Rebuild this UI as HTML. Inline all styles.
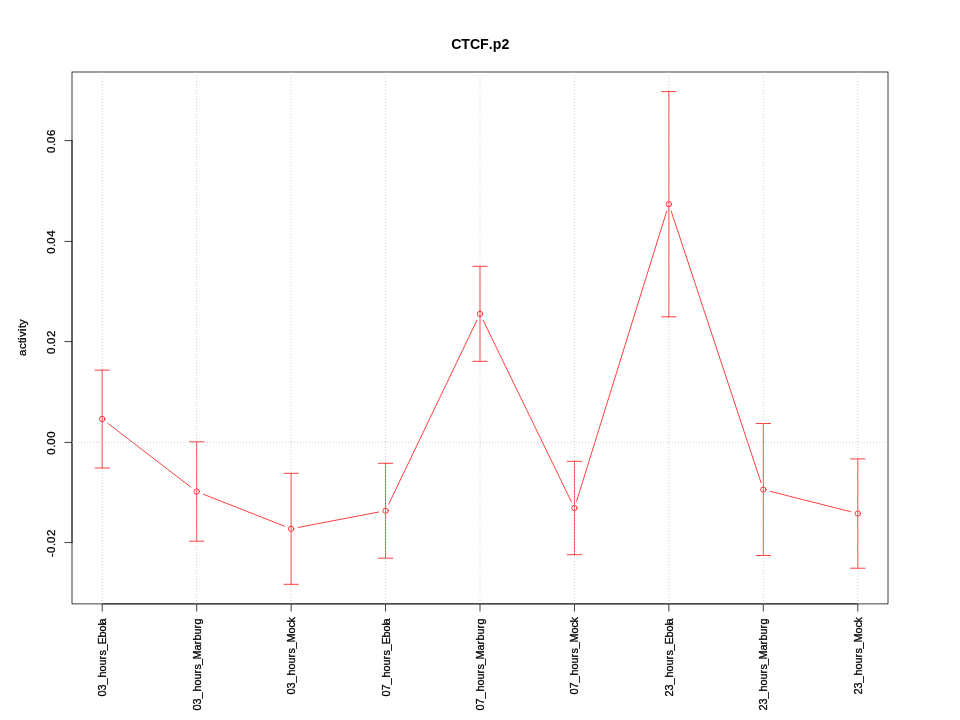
<!DOCTYPE html>
<html><head><meta charset="utf-8"><title>CTCF.p2</title>
<style>
html,body{margin:0;padding:0;background:#fff;}
svg{display:block;}
text{font-family:"Liberation Sans",Arial,Helvetica,sans-serif;fill:#000;}
.k{stroke:#000;stroke-width:.75;fill:none;stroke-linecap:round;stroke-linejoin:round}
.r{stroke:#f00;stroke-width:.75;fill:none;stroke-linecap:round}
.g{stroke:#bebebe;stroke-width:.75;fill:none;stroke-linecap:butt;stroke-dasharray:1 2}
</style></head><body>
<svg width="960" height="720" viewBox="0 0 960 720">
<rect width="960" height="720" fill="#fff"/>
<g class="r">
<line x1="107.93" y1="423.39" x2="190.96" y2="487.21"/>
<line x1="203.37" y1="494.24" x2="284.41" y2="526.16"/>
<line x1="298.18" y1="527.44" x2="378.48" y2="512.06"/>
<line x1="388.67" y1="504.21" x2="476.88" y2="320.39"/>
<line x1="483.15" y1="320.37" x2="571.3" y2="501.63"/>
<line x1="576.58" y1="501.22" x2="666.75" y2="211.08"/>
<line x1="671.15" y1="211.04" x2="761.07" y2="482.76"/>
<line x1="770.31" y1="491.37" x2="850.8" y2="511.73"/>
<circle cx="102.22" cy="419" r="2.7"/>
<circle cx="196.67" cy="491.6" r="2.7"/>
<circle cx="291.11" cy="528.8" r="2.7"/>
<circle cx="385.56" cy="510.7" r="2.7"/>
<circle cx="480" cy="313.9" r="2.7"/>
<circle cx="574.44" cy="508.1" r="2.7"/>
<circle cx="668.89" cy="204.2" r="2.7"/>
<circle cx="763.33" cy="489.6" r="2.7"/>
<circle cx="857.78" cy="513.5" r="2.7"/>
</g>
<g class="k">
<rect x="72" y="72" width="816" height="531.9" style="stroke-linejoin:miter"/>
<line x1="102.22" y1="603.9" x2="857.78" y2="603.9"/>
<line x1="102.22" y1="603.9" x2="102.22" y2="611.1"/>
<line x1="196.67" y1="603.9" x2="196.67" y2="611.1"/>
<line x1="291.11" y1="603.9" x2="291.11" y2="611.1"/>
<line x1="385.56" y1="603.9" x2="385.56" y2="611.1"/>
<line x1="480" y1="603.9" x2="480" y2="611.1"/>
<line x1="574.44" y1="603.9" x2="574.44" y2="611.1"/>
<line x1="668.89" y1="603.9" x2="668.89" y2="611.1"/>
<line x1="763.33" y1="603.9" x2="763.33" y2="611.1"/>
<line x1="857.78" y1="603.9" x2="857.78" y2="611.1"/>
<line x1="72" y1="542.58" x2="72" y2="140.58"/>
<line x1="72" y1="542.58" x2="64.8" y2="542.58"/>
<line x1="72" y1="442.42" x2="64.8" y2="442.42"/>
<line x1="72" y1="341.58" x2="64.8" y2="341.58"/>
<line x1="72" y1="241.42" x2="64.8" y2="241.42"/>
<line x1="72" y1="140.58" x2="64.8" y2="140.58"/>
</g>
<g class="r">
<path d="M95.02 370.1H109.42M102.22 370.1V468M95.02 468H109.42"/>
<path d="M189.47 441.8H203.87M196.67 441.8V541.2M189.47 541.2H203.87"/>
<path d="M283.91 473.3H298.31M291.11 473.3V584.3M283.91 584.3H298.31"/>
<path d="M378.36 463.3H392.76M385.56 463.3V558.2M378.36 558.2H392.76"/>
<path d="M472.8 266.3H487.2M480 266.3V361.3M472.8 361.3H487.2"/>
<path d="M567.24 461.3H581.64M574.44 461.3V554.7M567.24 554.7H581.64"/>
<path d="M661.69 91.6H676.09M668.89 91.6V316.8M661.69 316.8H676.09"/>
<path d="M756.13 423.5H770.53M763.33 423.5V555.5M756.13 555.5H770.53"/>
<path d="M850.58 458.9H864.98M857.78 458.9V568.2M850.58 568.2H864.98"/>
</g>
<g class="g">
<line x1="102.22" y1="604" x2="102.22" y2="72"/>
<line x1="196.67" y1="604" x2="196.67" y2="72"/>
<line x1="291.11" y1="604" x2="291.11" y2="72"/>
<line x1="385.56" y1="604" x2="385.56" y2="72"/>
<line x1="480" y1="604" x2="480" y2="72"/>
<line x1="574.44" y1="604" x2="574.44" y2="72"/>
<line x1="668.89" y1="604" x2="668.89" y2="72"/>
<line x1="763.33" y1="604" x2="763.33" y2="72"/>
<line x1="857.78" y1="604" x2="857.78" y2="72"/>
<line x1="72" y1="442.42" x2="888" y2="442.42"/>
</g>
<g opacity="0.999" stroke="#000" stroke-width="0.3" stroke-linejoin="round">
<text transform="translate(480.4,48.5) scale(0.986,1.07)" x="-29.5 -19.5 -10.5 -0.5 8.5 12.5 21.5" font-size="14.4" font-weight="bold" stroke="none">CTCF.p2</text>
<text transform="translate(25.9,337.5) rotate(-90)" x="-18.5 -11.5 -5.5 -2.5 0.5 6.5 9.5 12.5" font-size="11.4">activity</text>
<text transform="translate(55,542.88) rotate(-90)" x="-14 -10 -3 0 7" font-size="11.4">-0.02</text>
<text transform="translate(55,442.72) rotate(-90)" x="-12 -5 -2 5" font-size="11.4">0.00</text>
<text transform="translate(55,341.88) rotate(-90)" x="-12 -5 -2 5" font-size="11.4">0.02</text>
<text transform="translate(55,241.72) rotate(-90)" x="-12 -5 -2 5" font-size="11.4">0.04</text>
<text transform="translate(55,140.88) rotate(-90)" x="-12 -5 -2 5" font-size="11.4">0.06</text>
<text transform="translate(106,618.5) rotate(-90)" x="-78 -72 -66 -59 -53 -47 -41 -37 -32 -26 -19 -13 -7 -6" font-size="10.9">03_hours_Ebola</text>
<text transform="translate(201,618.5) rotate(-90)" x="-92 -86 -80 -73 -67 -61 -55 -51 -46.5 -41 -32 -26 -22 -16 -10 -6" font-size="10.9">03_hours_Marburg</text>
<text transform="translate(295,618.5) rotate(-90)" x="-76 -70 -64 -57 -51 -45 -39 -35 -30 -24 -15 -9 -4" font-size="10.9">03_hours_Mock</text>
<text transform="translate(390,618.5) rotate(-90)" x="-78 -72 -66 -59 -53 -47 -41 -37 -32 -26 -19 -13 -7 -6" font-size="10.9">07_hours_Ebola</text>
<text transform="translate(484,618.5) rotate(-90)" x="-92 -86 -80 -73 -67 -61 -55 -51 -46.5 -41 -32 -26 -22 -16 -10 -6" font-size="10.9">07_hours_Marburg</text>
<text transform="translate(578,618.5) rotate(-90)" x="-76 -70 -64 -57 -51 -45 -39 -35 -30 -24 -15 -9 -4" font-size="10.9">07_hours_Mock</text>
<text transform="translate(673,618.5) rotate(-90)" x="-78 -72 -66 -59 -53 -47 -41 -37 -32 -26 -19 -13 -7 -6" font-size="10.9">23_hours_Ebola</text>
<text transform="translate(767,618.5) rotate(-90)" x="-92 -86 -80 -73 -67 -61 -55 -51 -46.5 -41 -32 -26 -22 -16 -10 -6" font-size="10.9">23_hours_Marburg</text>
<text transform="translate(862,618.5) rotate(-90)" x="-76 -70 -64 -57 -51 -45 -39 -35 -30 -24 -15 -9 -4" font-size="10.9">23_hours_Mock</text>
</g>
</svg>
</body></html>
